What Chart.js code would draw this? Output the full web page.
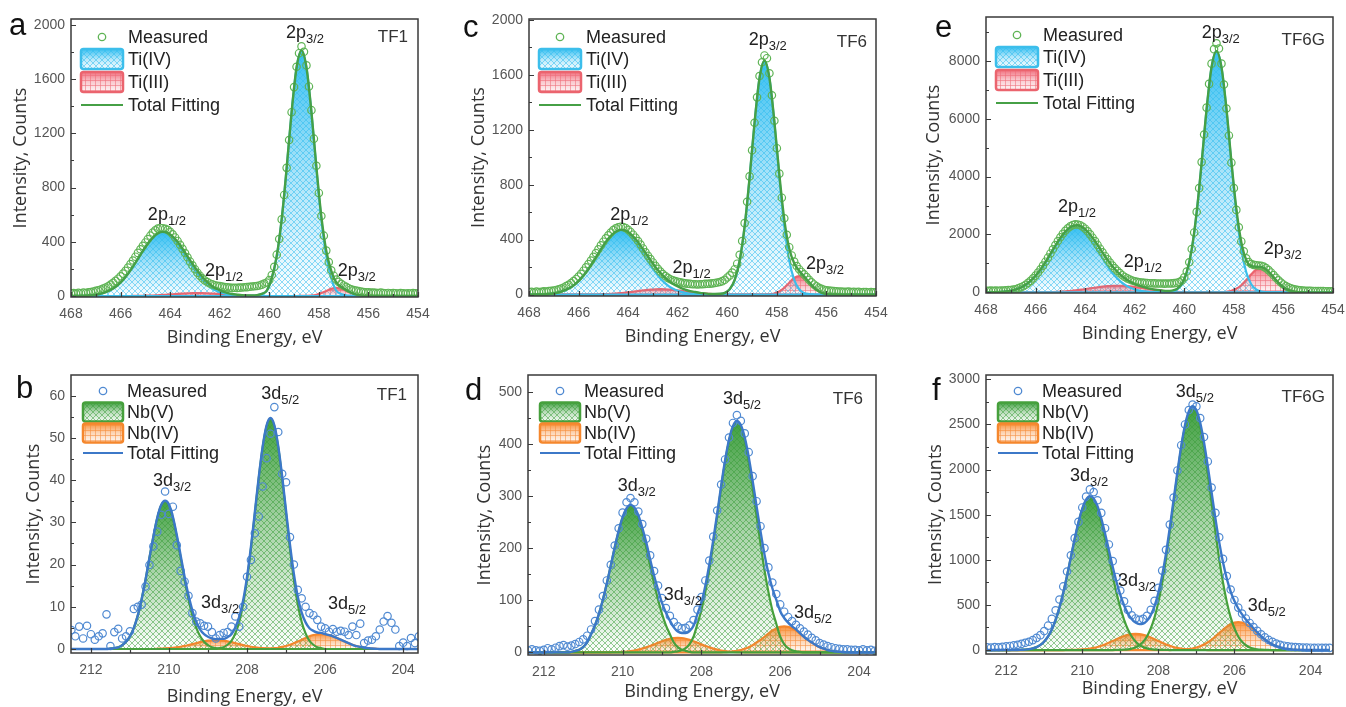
<!DOCTYPE html>
<html><head><meta charset="utf-8">
<script src="https://cdn.jsdelivr.net/npm/chart.js@4.4.0/dist/chart.umd.min.js"></script>
<style>
html,body{margin:0;padding:0;background:#fff;overflow:hidden;width:1346px;height:707px;position:relative}
.panel{position:absolute}
.letter{position:absolute;font:31px 'Liberation Sans',Arial,sans-serif;line-height:1;color:#111}
</style></head><body>
<div class="panel" id="pa" style="left:0;top:0"><canvas id="ca"></canvas></div>
<div class="panel" id="pc" style="left:455px;top:0"><canvas id="cc"></canvas></div>
<div class="panel" id="pe" style="left:910px;top:0"><canvas id="ce"></canvas></div>
<div class="panel" id="pb" style="left:0;top:355px"><canvas id="cb"></canvas></div>
<div class="panel" id="pd" style="left:455px;top:355px"><canvas id="cd"></canvas></div>
<div class="panel" id="pf" style="left:910px;top:355px"><canvas id="cf"></canvas></div>
<div class="letter" style="left:9px;top:9px">a</div>
<div class="letter" style="left:16px;top:372px">b</div>
<div class="letter" style="left:463px;top:11px">c</div>
<div class="letter" style="left:465px;top:374px">d</div>
<div class="letter" style="left:935px;top:11px">e</div>
<div class="letter" style="left:932px;top:374px">f</div>
<script>
// ---------- tick labels ----------
const tiTicks = [468,466,464,462,460,458,456,454];
const nbTicks = [212,210,208,206,204];
const aYTicks = [0,400,800,1200,1600,2000];
const cYTicks = [0,400,800,1200,1600,2000];
const eYTicks = [0,2000,4000,6000,8000];
const bYTicks = [0,10,20,30,40,50,60];
const dYTicks = [0,100,200,300,400,500];
const fYTicks = [0,500,1000,1500,2000,2500,3000];
const sampleNames = ['TF1','TF6','TF6G'];

// ---------- energies (eV) ----------
const tiFitEnergy = [468,467.9,467.7,467.5,467.3,467.1,466.9,466.7,466.5,466.3,
466.1,465.9,465.7,465.5,465.3,465.1,464.9,464.7,464.5,464.3,
464.1,463.9,463.7,463.5,463.3,463.1,462.9,462.7,462.5,462.3,
462.1,461.9,461.7,461.5,461.3,461.1,460.9,460.7,460.5,460.3,
460.1,459.9,459.7,459.5,459.3,459.1,458.9,458.7,458.5,458.3,
458.1,457.9,457.7,457.5,457.3,457.1,456.9,456.7,456.5,456.3,
456.1,455.9,455.7,455.5,455.3,455.1,454.9,454.7,454.5,454.3,
454.1,454];
const tiMeasEnergy = [468,467.9,467.8,467.7,467.6,467.5,467.4,467.3,467.2,467.1,
467,466.9,466.8,466.7,466.6,466.5,466.4,466.3,466.2,466.1,
466,465.9,465.8,465.7,465.6,465.5,465.4,465.3,465.2,465.1,
465,464.9,464.8,464.7,464.6,464.5,464.4,464.3,464.2,464.1,
464,463.9,463.8,463.7,463.6,463.5,463.4,463.3,463.2,463.1,
463,462.9,462.8,462.7,462.6,462.5,462.4,462.3,462.2,462.1,
462,461.9,461.8,461.7,461.6,461.5,461.4,461.3,461.2,461.1,
461,460.9,460.8,460.7,460.6,460.5,460.4,460.3,460.2,460.1,
460,459.9,459.8,459.7,459.6,459.5,459.4,459.3,459.2,459.1,
459,458.9,458.8,458.7,458.6,458.5,458.4,458.3,458.2,458.1,
458,457.9,457.8,457.7,457.6,457.5,457.4,457.3,457.2,457.1,
457,456.9,456.8,456.7,456.6,456.5,456.4,456.3,456.2,456.1,
456,455.9,455.8,455.7,455.6,455.5,455.4,455.3,455.2,455.1,
455,454.9,454.8,454.7,454.6,454.5,454.4,454.3,454.2,454.1,
454];
const nbEnergy = [212.5,212.4,212.3,212.2,212.1,212,211.9,211.8,211.7,211.6,
211.5,211.4,211.3,211.2,211.1,211,210.9,210.8,210.7,210.6,
210.5,210.4,210.3,210.2,210.1,210,209.9,209.8,209.7,209.6,
209.5,209.4,209.3,209.2,209.1,209,208.9,208.8,208.7,208.6,
208.5,208.4,208.3,208.2,208.1,208,207.9,207.8,207.7,207.6,
207.5,207.4,207.3,207.2,207.1,207,206.9,206.8,206.7,206.6,
206.5,206.4,206.3,206.2,206.1,206,205.9,205.8,205.7,205.6,
205.5,205.4,205.3,205.2,205.1,205,204.9,204.8,204.7,204.6,
204.5,204.4,204.3,204.2,204.1,204,203.9,203.8,203.7,203.6,
203.5];

// ---------- panel a : TF1 Ti 2p ----------
const aMeasured = [20,22,18,24,21,25,23,27,30,33,
38,42,48,55,63,72,84,98,112,128,
146,165,186,210,236,262,290,318,345,370,
395,420,445,468,485,498,502,500,496,488,
474,455,432,406,378,348,317,286,255,226,
198,172,150,131,115,103,93,86,80,76,
73,70,66,64,62,60,61,60,62,63,
65,66,68,70,72,74,78,84,92,100,
118,155,215,305,420,565,745,945,1150,1355,
1540,1690,1790,1840,1800,1700,1545,1370,1160,960,
760,590,445,335,250,190,150,122,104,90,
78,68,58,50,44,40,36,33,30,28,
27,25,26,24,23,25,22,21,23,20,
22,21,19,22,20,18,21,19,22,20,
19];
const aTi4_2p12 = [0,0,1,2,4,7,13,22,36,55,
83,119,164,216,273,331,384,427,455,465,
455,427,384,331,273,216,164,119,83,55,
36,22,13,7,4,2,1,0,0,0,
0,0,0,0,0,0,0,0,0,0,
0,0,0,0,0,0,0,0,0,0,
0,0,0,0,0,0,0,0,0,0,
0,0];
const aTi4_2p32 = [0,0,0,0,0,0,0,0,0,0,
0,0,0,0,0,0,0,0,0,0,
0,0,0,0,0,0,0,0,0,0,
0,0,0,0,0,0,1,3,6,15,
40,132,294,565,941,1354,1683,1810,1683,1354,
941,565,294,132,40,15,6,3,1,0,
0,0,0,0,0,0,0,0,0,0,
0,0];
const aTi3_2p12 = [0,0,0,0,0,0,0,0,0,0,
0,0,0,1,1,2,3,4,6,8,
11,13,16,18,20,22,22,22,20,18,
16,13,11,8,6,4,3,2,1,1,
0,0,0,0,0,0,0,0,0,0,
0,0,0,0,0,0,0,0,0,0,
0,0,0,0,0,0,0,0,0,0,
0,0];
const aTi3_2p32 = [0,0,0,0,0,0,0,0,0,0,
0,0,0,0,0,0,0,0,0,0,
0,0,0,0,0,0,0,0,0,0,
0,0,0,0,0,0,0,0,0,0,
0,0,0,0,0,0,0,1,2,4,
10,22,38,54,60,54,38,22,10,4,
2,1,0,0,0,0,0,0,0,0,
0,0];
const aTotal = [0,0,1,2,4,7,13,22,36,55,
83,119,164,217,274,333,387,431,461,473,
466,440,400,349,293,238,186,141,103,73,
52,35,24,15,10,6,5,5,7,16,
40,132,294,565,941,1354,1683,1811,1685,1358,
951,587,332,186,100,69,44,25,11,4,
2,1,0,0,0,0,0,0,0,0,
0,0];

// ---------- panel c : TF6 Ti 2p ----------
const cMeasured = [18,20,17,22,19,21,24,22,26,28,
30,34,38,44,52,62,72,84,98,114,
132,152,174,198,222,248,275,302,330,358,
385,410,432,452,470,482,490,494,492,485,
472,456,436,414,390,364,336,308,282,258,
234,210,188,168,150,135,122,112,104,98,
94,90,86,82,80,78,76,75,74,75,
76,78,79,80,82,85,88,92,98,108,
125,140,160,185,225,290,390,520,675,860,
1050,1250,1435,1590,1690,1740,1720,1610,1450,1265,
1065,880,705,555,435,345,285,240,208,185,
165,147,128,108,90,74,60,50,42,36,
32,30,27,26,24,22,23,21,20,22,
19,21,18,20,17,19,18,16,18,17,
17];
const cTi4_2p12 = [0,0,1,2,4,7,13,22,36,54,
82,118,162,214,270,327,380,422,450,460,
450,422,380,327,270,214,162,118,82,54,
36,22,13,7,4,2,1,0,0,0,
0,0,0,0,0,0,0,0,0,0,
0,0,0,0,0,0,0,0,0,0,
0,0,0,0,0,0,0,0,0,0,
0,0];
const cTi4_2p32 = [0,0,0,0,0,0,0,0,0,0,
0,0,0,0,0,0,0,0,0,0,
0,0,0,0,0,0,0,0,0,0,
0,0,0,0,0,0,0,0,1,4,
12,39,107,248,496,851,1250,1574,1700,1574,
1250,851,496,248,107,39,12,4,1,0,
0,0,0,0,0,0,0,0,0,0,
0,0];
const cTi3_2p12 = [0,0,0,0,0,0,0,0,0,0,
0,0,0,1,1,2,4,5,8,11,
15,19,24,29,33,37,39,40,39,37,
33,29,24,19,15,11,8,5,4,2,
1,1,0,0,0,0,0,0,0,0,
0,0,0,0,0,0,0,0,0,0,
0,0,0,0,0,0,0,0,0,0,
0,0];
const cTi3_2p32 = [0,0,0,0,0,0,0,0,0,0,
0,0,0,0,0,0,0,0,0,0,
0,0,0,0,0,0,0,0,0,0,
0,0,0,0,0,0,0,0,0,0,
0,0,0,0,0,0,0,0,1,2,
8,23,50,87,121,135,121,87,50,23,
8,2,1,0,0,0,0,0,0,0,
0,0];
const cTotal = [0,0,1,2,4,7,13,22,36,54,
82,118,162,215,271,329,384,427,458,471,
465,441,404,356,303,251,201,158,121,91,
69,51,37,26,19,13,9,5,5,6,
13,40,107,248,496,851,1250,1574,1701,1576,
1258,874,546,335,228,174,133,91,51,23,
8,2,1,0,0,0,0,0,0,0,
0,0];

// ---------- panel e : TF6G Ti 2p ----------
const eMeasured = [60,55,62,58,65,60,68,64,72,78,
85,98,112,140,175,215,265,330,400,485,
580,685,800,925,1060,1200,1345,1490,1635,1775,
1905,2025,2130,2215,2280,2330,2350,2345,2320,2270,
2200,2110,2005,1890,1770,1640,1510,1385,1260,1140,
1030,925,830,745,665,595,535,485,445,410,
385,365,350,340,330,325,318,315,312,310,
308,306,305,306,308,312,320,335,360,410,
520,720,1040,1500,2070,2780,3600,4500,5450,6380,
7200,7900,8400,8600,8420,7900,7180,6350,5420,4480,
3600,2850,2250,1760,1420,1180,1050,980,950,940,
930,920,890,840,770,690,600,505,420,340,
275,220,175,140,115,95,82,72,65,60,
55,52,50,48,46,45,44,42,41,40,
40];
const eTi4_2p12 = [2,3,7,13,25,46,80,133,213,327,
480,676,911,1178,1460,1732,1969,2144,2238,2238,
2144,1969,1732,1460,1178,911,676,480,327,213,
133,80,46,25,13,7,3,2,1,0,
0,0,0,0,0,0,0,0,0,0,
0,0,0,0,0,0,0,0,0,0,
0,0,0,0,0,0,0,0,0,0,
0,0];
const eTi4_2p32 = [0,0,0,0,0,0,0,0,0,0,
0,0,0,0,0,0,0,0,0,0,
0,0,0,0,0,0,0,0,0,0,
0,0,0,0,0,0,2,8,31,101,
284,695,1483,2766,4473,6323,7772,8330,7772,6323,
4473,2766,1483,695,284,101,31,8,2,0,
0,0,0,0,0,0,0,0,0,0,
0,0];
const eTi3_2p12 = [0,0,0,0,0,0,0,0,0,1,
2,3,5,9,14,21,31,43,60,79,
102,126,152,176,198,215,226,230,226,215,
198,176,152,126,102,79,60,43,31,21,
14,9,5,3,2,1,0,0,0,0,
0,0,0,0,0,0,0,0,0,0,
0,0,0,0,0,0,0,0,0,0,
0,0];
const eTi3_2p32 = [0,0,0,0,0,0,0,0,0,0,
0,0,0,0,0,0,0,0,0,0,
0,0,0,0,0,0,0,0,0,0,
0,0,0,0,0,0,0,0,0,0,
0,0,0,0,0,0,1,2,7,20,
53,124,248,425,625,787,850,787,625,425,
248,124,53,20,7,2,1,0,0,0,
0,0];
const eTotal = [2,3,7,13,25,46,80,133,213,328,
482,679,916,1187,1474,1753,2000,2187,2298,2317,
2246,2095,1884,1636,1376,1126,902,710,553,428,
331,256,198,151,115,86,65,53,63,122,
298,704,1488,2769,4475,6324,7773,8332,7779,6343,
4526,2890,1731,1120,909,888,881,795,627,425,
248,124,53,20,7,2,1,0,0,0,
0,0];

// ---------- panel b : TF1 Nb 3d ----------
const bMeasured = [4.5,3.0,5.3,2.5,5.5,3.5,2.2,3.0,3.7,8.2,
0.7,4.0,4.8,2.5,3.0,4.2,9.5,10.0,10.5,14.8,
19.9,24.3,27.8,31.8,37.3,32.0,33.7,24.6,18.5,16.0,
12.6,8.5,6.5,6.1,5.5,5.3,4.0,2.5,3.3,3.8,
4.0,5.3,7.7,5.3,10.0,17.1,21.1,27.4,31.4,38.5,
45.2,51.0,57.3,51.4,41.5,39.5,26.5,20.0,14.0,12.0,
10.0,8.5,8.0,6.9,5.3,4.9,4.1,4.7,4.1,4.3,
4.1,3.3,5.3,3.3,6.0,1.4,2.0,2.2,3.0,4.6,
6.5,7.8,6.2,4.6,0.7,1.5,0.7,2.6,1.4,3.0,
1.8];
const bNb5_3d32 = [0,0,0,0,0,0,0,0,0,0,
0.1,0.2,0.4,0.9,1.7,3.0,5.0,7.9,11.8,16.4,
21.6,26.6,31.0,34.0,35.0,34.0,31.0,26.6,21.6,16.4,
11.8,7.9,5.0,3.0,1.7,0.9,0.4,0.2,0.1,0,
0,0,0,0,0,0,0,0,0,0,
0,0,0,0,0,0,0,0,0,0,
0,0,0,0,0,0,0,0,0,0,
0,0,0,0,0,0,0,0,0,0,
0,0,0,0,0,0,0,0,0,0,
0];
const bNb5_3d52 = [0,0,0,0,0,0,0,0,0,0,
0,0,0,0,0,0,0,0,0,0,
0,0,0,0,0,0,0,0,0,0,
0,0,0,0,0,0,0,0,0.2,0.4,
1.0,1.9,3.7,6.4,10.6,16.4,23.7,32.0,40.4,47.7,
52.7,54.5,52.7,47.7,40.4,32.0,23.7,16.4,10.6,6.4,
3.7,1.9,1.0,0.4,0.2,0,0,0,0,0,
0,0,0,0,0,0,0,0,0,0,
0,0,0,0,0,0,0,0,0,0,
0];
const bNb4_3d32 = [0,0,0,0,0,0,0,0,0,0,
0,0,0,0,0,0,0,0,0,0,
0,0,0.05,0.08,0.13,0.19,0.28,0.4,0.54,0.72,
0.93,1.15,1.38,1.61,1.81,1.97,2.06,2.1,2.06,1.97,
1.81,1.61,1.38,1.15,0.93,0.72,0.54,0.4,0.28,0.19,
0.13,0.08,0.05,0,0,0,0,0,0,0,
0,0,0,0,0,0,0,0,0,0,
0,0,0,0,0,0,0,0,0,0,
0,0,0,0,0,0,0,0,0,0,
0];
const bNb4_3d52 = [0,0,0,0,0,0,0,0,0,0,
0,0,0,0,0,0,0,0,0,0,
0,0,0,0,0,0,0,0,0,0,
0,0,0,0,0,0,0,0,0,0,
0,0,0,0,0,0,0,0,0,0,
0.05,0.1,0.2,0.3,0.5,0.7,1.0,1.35,1.75,2.2,
2.6,3.0,3.3,3.5,3.6,3.5,3.3,3.0,2.6,2.2,
1.75,1.35,1.0,0.7,0.5,0.3,0.2,0.1,0.05,0,
0,0,0,0,0,0,0,0,0,0,
0];
const bTotal = [0,0,0,0,0,0,0,0,0,0,
0.1,0.2,0.4,0.9,1.7,3.0,5.0,7.9,11.8,16.4,
21.6,26.6,31.1,34.1,35.1,34.2,31.3,27.0,22.1,17.1,
12.7,9.1,6.4,4.6,3.5,2.9,2.5,2.3,2.4,2.4,
2.8,3.5,5.1,7.6,11.5,17.1,24.2,32.4,40.7,47.9,
52.9,54.7,53.0,48.0,40.9,32.7,24.7,17.8,12.4,8.6,
6.3,4.9,4.3,3.9,3.8,3.5,3.3,3.0,2.6,2.2,
1.8,1.4,1.0,0.7,0.5,0.3,0.2,0.1,0.05,0,
0,0,0,0,0,0,0,0,0,0,
0];

// ---------- panel d : TF6 Nb 3d ----------
const dMeasured = [5,4,6,4,3,5,8,6,9,12,
14,11,13,16,20,25,32,44,60,82,
108,138,168,205,238,268,288,296,288,270,
246,218,186,156,128,104,85,70,58,50,
46,47,52,62,82,106,138,176,222,272,
322,370,412,440,455,444,420,384,338,290,
242,200,163,134,112,92,78,68,60,53,
46,40,34,28,23,18,15,12,10,8,
7,6,6,5,5,4,6,4,5,3,
4];
const dNb5_3d32 = [0,0,0,0,0,0,0,0,0,0,
0,0,1,3,5,10,19,35,52,74,
101,132,166,201,232,258,274,280,274,258,
232,201,166,132,101,74,52,35,19,10,
5,3,1,0,0,0,0,0,0,0,
0,0,0,0,0,0,0,0,0,0,
0,0,0,0,0,0,0,0,0,0,
0,0,0,0,0,0,0,0,0,0,
0,0,0,0,0,0,0,0,0,0,
0];
const dNb5_3d52 = [0,0,0,0,0,0,0,0,0,0,
0,0,0,0,0,0,0,0,0,0,
0,0,0,0,0,0,0,0,0,0,
0,0,0,0,0,0,0,0,1,2,
4,8,16,30,55,81,116,158,208,261,
315,365,405,431,440,431,405,365,315,261,
208,158,116,81,55,30,16,8,4,2,
1,0,0,0,0,0,0,0,0,0,
0,0,0,0,0,0,0,0,0,0,
0];
const dNb4_3d32 = [0,0,0,0,0,0,0,0,0,0,
0,0,0,0,0,0,0,0,0,0,
0,0,0.2,0.4,0.7,1.1,1.7,2.5,3.7,5.3,
7.3,9.6,12.4,15.4,18.5,21.4,24.1,26.2,27.5,28,
27.5,26.2,24.1,21.4,18.5,15.4,12.4,9.6,7.3,5.3,
3.7,2.5,1.7,1.1,0.7,0.4,0.2,0,0,0,
0,0,0,0,0,0,0,0,0,0,
0,0,0,0,0,0,0,0,0,0,
0,0,0,0,0,0,0,0,0,0,
0];
const dNb4_3d52 = [0,0,0,0,0,0,0,0,0,0,
0,0,0,0,0,0,0,0,0,0,
0,0,0,0,0,0,0,0,0,0,
0,0,0,0,0,0,0,0,0,0,
0,0,0,0,0,0,0,0,0,0,
0,0.5,1,2,3,4.5,7,10,14,19,
24,30,36,42,46,49,50,49,46,42,
36,30,24,19,14,10,7,4.5,3,2,
1,0.5,0,0,0,0,0,0,0,0,
0];
const dTotal = [0,0,0,0,0,0,0,0,0,0,
0,0,1,3,5,10,19,35,52,74,
101,132,166,201,233,259,276,283,278,263,
239,211,178,147,120,95,76,61,48,40,
37,37,41,51,74,96,128,168,215,266,
319,368,408,434,444,436,412,375,329,280,
232,188,152,123,101,79,66,57,50,44,
37,30,24,19,14,10,7,4.5,3,2,
1,0.5,0,0,0,0,0,0,0,0,
0];

// ---------- panel f : TF6G Nb 3d ----------
const fMeasured = [30,28,32,30,35,40,45,52,58,68,
80,92,110,135,165,210,270,345,440,560,
705,870,1050,1240,1420,1580,1700,1780,1750,1660,
1520,1350,1170,985,810,660,540,445,385,350,
335,345,380,445,545,690,880,1110,1390,1690,
1990,2270,2500,2660,2720,2700,2570,2360,2090,1800,
1520,1250,1010,820,670,555,470,405,350,300,
255,212,175,140,112,90,72,58,48,40,
35,32,30,28,27,26,25,26,24,25,
24];
const fNb5_3d32 = [0,0,0,0,0,0,0,1,1,3,
5,10,19,33,57,95,150,228,335,470,
634,823,1026,1227,1411,1560,1656,1690,1656,1560,
1411,1227,1026,823,634,470,335,228,150,95,
57,33,19,10,5,3,1,1,0,0,
0,0,0,0,0,0,0,0,0,0,
0,0,0,0,0,0,0,0,0,0,
0,0,0,0,0,0,0,0,0,0,
0,0,0,0,0,0,0,0,0,0,
0];
const fNb5_3d52 = [0,0,0,0,0,0,0,0,0,0,
0,0,0,0,0,0,0,0,0,0,
0,0,0,0,0,0,0,0,0,0,
0,0,0,0,1,2,4,8,16,29,
53,91,150,239,362,531,745,1005,1305,1627,
1946,2238,2474,2626,2680,2626,2474,2238,1946,1627,
1305,1005,745,531,362,239,150,91,53,29,
16,8,4,2,1,0,0,0,0,0,
0,0,0,0,0,0,0,0,0,0,
0];
const fNb4_3d32 = [0,0,0,0,0,0,0,0,0,0,
0,0,0,0,0,0,0,0,0,0,
0,1,2,3,4,7,11,16,24,34,
47,62,80,99,119,138,155,168,177,180,
177,168,155,138,119,99,80,62,47,34,
24,16,11,7,4,3,2,1,0,0,
0,0,0,0,0,0,0,0,0,0,
0,0,0,0,0,0,0,0,0,0,
0,0,0,0,0,0,0,0,0,0,
0];
const fNb4_3d52 = [0,0,0,0,0,0,0,0,0,0,
0,0,0,0,0,0,0,0,0,0,
0,0,0,0,0,0,0,0,0,0,
0,0,0,0,0,0,0,0,0,0,
0,0,0,0,0,0,0,0,0,1,
2,3,6,11,17,28,42,61,86,116,
151,188,225,259,286,304,310,304,286,259,
225,188,151,116,86,61,42,28,17,11,
6,3,2,1,0,0,0,0,0,0,
0];
const fTotal = [0,0,0,0,0,0,0,1,1,3,
5,10,19,33,57,95,150,228,335,470,
634,824,1028,1230,1415,1567,1667,1706,1680,1594,
1458,1289,1106,922,754,610,494,404,343,304,
287,292,324,387,486,633,826,1068,1352,1662,
1972,2257,2491,2644,2701,2657,2518,2300,2032,1743,
1456,1193,970,790,648,543,460,395,339,288,
241,196,155,118,87,61,42,28,17,11,
6,3,2,1,0,0,0,0,0,0,
0];

// ---------- styling ----------
const FONT = "'Liberation Sans', Arial, sans-serif";
const TI = {
  meas:'rgb(95,180,85)', total:'rgb(70,160,70)',
  c1:{fill:'45,188,240', line:'60,190,235', pat:'70,195,240', kind:'diag'},
  c2:{fill:'240,105,120', line:'235,100,110', pat:'240,120,130', kind:'grid'},
  names:['Measured','Ti(IV)','Ti(III)','Total Fitting'],
  legend:{rows:[18,40,63,86], markerX:31, boxX:10, boxW:42, boxH:20, textX:57}
};
const NB = {
  meas:'rgb(80,138,210)', total:'rgb(60,120,200)',
  c1:{fill:'55,155,55', line:'70,160,60', pat:'80,170,80', kind:'diag'},
  c2:{fill:'248,140,50', line:'245,135,45', pat:'245,150,80', kind:'grid'},
  names:['Measured','Nb(V)','Nb(IV)','Total Fitting'],
  legend:{rows:[16,37,58,78], markerX:32, boxX:12, boxW:40, boxH:19, textX:56}
};

function makePattern(rgb, kind) {
  const c = document.createElement('canvas');
  const s = kind === 'diag' ? 6 : 5;
  c.width = s; c.height = s;
  const g = c.getContext('2d');
  g.strokeStyle = 'rgba(' + rgb + ',0.6)';
  g.lineWidth = 1;
  g.beginPath();
  if (kind === 'diag') {
    g.moveTo(-1,-1); g.lineTo(s+1,s+1); g.moveTo(s+1,-1); g.lineTo(-1,s+1);
  } else {
    g.moveTo(0,0.5); g.lineTo(s,0.5); g.moveTo(0.5,0); g.lineTo(0.5,s);
  }
  g.stroke();
  return g.createPattern(c, 'repeat');
}
function gradFill(rgb, peak) {
  return (ctx) => {
    const chart = ctx.chart;
    if (!chart.chartArea || !chart.scales.y) return 'rgba(' + rgb + ',0.4)';
    const ys = chart.scales.y;
    const top = ys.getPixelForValue(peak), bot = ys.getPixelForValue(0);
    if (!(bot - top > 1)) return 'rgba(' + rgb + ',0.4)';
    const g = chart.ctx.createLinearGradient(0, top, 0, bot);
    g.addColorStop(0, 'rgba(' + rgb + ',0.95)');
    g.addColorStop(0.45, 'rgba(' + rgb + ',0.45)');
    g.addColorStop(1, 'rgba(' + rgb + ',0)');
    return g;
  };
}

const panels = [
  {id:'a', canvas:'ca', W:440, H:353, pad:[6,19,22], yw:65, xh:56, xMin:454, xMax:468, yMin:-7, yMax:2042,
   xTicks:tiTicks, yTicks:aYTicks, xMinor:1, yMinor:200, st:TI, fitX:tiFitEnergy, measX:tiMeasEnergy,
   meas:aMeasured, comps:[[aTi4_2p12,'c1'],[aTi4_2p32,'c1'],[aTi3_2p12,'c2'],[aTi3_2p32,'c2']], total:aTotal,
   sample:sampleNames[0], sOff:[10,23],
   labels:[['2p','3/2',458.56,1900],['2p','1/2',464.13,561],['2p','1/2',461.83,148],['2p','3/2',456.47,148]]},
  {id:'c', canvas:'cc', W:440, H:352, pad:[9,19,19], yw:65, xh:56, xMin:454, xMax:468, yMin:-10, yMax:2005,
   xTicks:tiTicks, yTicks:cYTicks, xMinor:1, yMinor:200, st:TI, fitX:tiFitEnergy, measX:tiMeasEnergy,
   meas:cMeasured, comps:[[cTi4_2p12,'c1'],[cTi4_2p32,'c1'],[cTi3_2p12,'c2'],[cTi3_2p32,'c2']], total:cTotal,
   sample:sampleNames[1], sOff:[9,28],
   labels:[['2p','3/2',458.37,1818],['2p','1/2',463.95,540],['2p','1/2',461.44,158],['2p','3/2',456.06,189]]},
  {id:'e', canvas:'ce', W:436, H:349, pad:[9,17,13], yw:67, xh:56, xMin:454, xMax:468, yMin:-20, yMax:9510,
   xTicks:tiTicks, yTicks:eYTicks, xMinor:1, yMinor:1000, st:TI, fitX:tiFitEnergy, measX:tiMeasEnergy,
   meas:eMeasured, comps:[[eTi4_2p12,'c1'],[eTi4_2p32,'c1'],[eTi3_2p12,'c2'],[eTi3_2p32,'c2']], total:eTotal,
   sample:sampleNames[2], sOff:[8,28],
   labels:[['2p','3/2',458.53,8778],['2p','1/2',464.33,2762],['2p','1/2',461.67,894],['2p','3/2',456.03,1326]]},
  {id:'b', canvas:'cb', W:440, H:357, pad:[19,20,22], yw:52, xh:59, xMin:203.62, xMax:212.51, yMin:-0.95, yMax:64.9,
   xTicks:nbTicks, yTicks:bYTicks, xMinor:1, yMinor:5, st:NB, fitX:nbEnergy, measX:nbEnergy,
   meas:bMeasured, comps:[[bNb5_3d32,'c1'],[bNb5_3d52,'c1'],[bNb4_3d32,'c2'],[bNb4_3d52,'c2']], total:bTotal,
   sample:sampleNames[0], sOff:[11,25],
   labels:[['3d','5/2',207.15,59.2],['3d','3/2',209.92,38.6],['3d','3/2',208.69,9.8],['3d','5/2',205.44,9.4]]},
  {id:'d', canvas:'cd', W:440, H:352, pad:[15,20,19], yw:58, xh:52, xMin:203.57, xMax:212.4, yMin:-5, yMax:532,
   xTicks:nbTicks, yTicks:dYTicks, xMinor:1, yMinor:50, st:NB, fitX:nbEnergy, measX:nbEnergy,
   meas:dMeasured, comps:[[dNb5_3d32,'c1'],[dNb5_3d52,'c1'],[dNb4_3d32,'c2'],[dNb4_3d52,'c2']], total:dTotal,
   sample:sampleNames[1], sOff:[13,29],
   labels:[['3d','5/2',206.97,477],['3d','3/2',209.64,309],['3d','3/2',208.47,100],['3d','5/2',205.17,66]]},
  {id:'f', canvas:'cf', W:436, H:349, pad:[11,20,13], yw:65, xh:50, xMin:203.41, xMax:212.53, yMin:-44, yMax:3048,
   xTicks:nbTicks, yTicks:fYTicks, xMinor:1, yMinor:250, st:NB, fitX:nbEnergy, measX:nbEnergy,
   meas:fMeasured, comps:[[fNb5_3d32,'c1'],[fNb5_3d52,'c1'],[fNb4_3d32,'c2'],[fNb4_3d52,'c2']], total:fTotal,
   sample:sampleNames[2], sOff:[8,27],
   labels:[['3d','5/2',207.04,2804],['3d','3/2',209.82,1873],['3d','3/2',208.56,709],['3d','5/2',205.15,432]]}
];

function roundRect(ctx, x, y, w, h, r) {
  ctx.beginPath();
  ctx.moveTo(x + r, y); ctx.lineTo(x + w - r, y); ctx.quadraticCurveTo(x + w, y, x + w, y + r);
  ctx.lineTo(x + w, y + h - r); ctx.quadraticCurveTo(x + w, y + h, x + w - r, y + h);
  ctx.lineTo(x + r, y + h); ctx.quadraticCurveTo(x, y + h, x, y + h - r);
  ctx.lineTo(x, y + r); ctx.quadraticCurveTo(x, y, x + r, y);
  ctx.closePath();
}

function makeDecor(p) {
  return {
    id: 'decor_' + p.id,
    afterDraw(chart) {
      const ctx = chart.ctx, ca = chart.chartArea, xs = chart.scales.x, ys = chart.scales.y;
      ctx.save();
      // inward ticks
      ctx.strokeStyle = '#3a3a3a'; ctx.lineWidth = 1.2;
      ctx.beginPath();
      for (let v = Math.ceil(p.xMin); v <= p.xMax + 1e-9; v += p.xMinor) {
        const px = Math.round(xs.getPixelForValue(v)) + 0.5;
        const len = p.xTicks.includes(v) ? 5 : 3;
        ctx.moveTo(px, ca.bottom); ctx.lineTo(px, ca.bottom - len);
      }
      for (let v = 0; v <= p.yMax + 1e-9; v += p.yMinor) {
        const py = Math.round(ys.getPixelForValue(v)) + 0.5;
        const len = p.yTicks.includes(v) ? 5 : 3;
        ctx.moveTo(ca.left, py); ctx.lineTo(ca.left + len, py);
      }
      ctx.stroke();
      // frame
      ctx.lineWidth = 1.5; ctx.strokeStyle = '#3a3a3a';
      ctx.strokeRect(ca.left, ca.top, ca.right - ca.left, ca.bottom - ca.top);
      // sample name
      ctx.fillStyle = '#333'; ctx.font = '17px ' + FONT;
      ctx.textAlign = 'right'; ctx.textBaseline = 'alphabetic';
      ctx.fillText(p.sample, ca.right - p.sOff[0], ca.top + p.sOff[1]);
      // peak labels
      ctx.textAlign = 'left'; ctx.fillStyle = '#222';
      p.labels.forEach(l => {
        const px = xs.getPixelForValue(l[2]), py = ys.getPixelForValue(l[3]);
        ctx.font = '18px ' + FONT; const w1 = ctx.measureText(l[0]).width;
        ctx.font = '13px ' + FONT; const w2 = ctx.measureText(l[1]).width;
        const x0 = px - (w1 + w2) / 2;
        ctx.font = '18px ' + FONT; ctx.fillText(l[0], x0, py);
        ctx.font = '13px ' + FONT; ctx.fillText(l[1], x0 + w1, py + 5);
      });
      // legend
      const st = p.st, L = st.legend;
      ctx.font = '18px ' + FONT; ctx.textBaseline = 'middle';
      const bx = ca.left + L.boxX;
      for (let i = 0; i < 4; i++) {
        const cy = ca.top + L.rows[i];
        if (i === 0) {
          ctx.beginPath(); ctx.arc(ca.left + L.markerX, cy, 3.7, 0, Math.PI * 2);
          ctx.strokeStyle = st.meas; ctx.lineWidth = 1.3; ctx.stroke();
        } else if (i === 3) {
          ctx.beginPath(); ctx.moveTo(bx, cy); ctx.lineTo(bx + L.boxW, cy);
          ctx.strokeStyle = st.total; ctx.lineWidth = 2; ctx.stroke();
        } else {
          const c = i === 1 ? st.c1 : st.c2;
          const top = cy - L.boxH / 2;
          ctx.fillStyle = '#fff'; ctx.fillRect(bx, top, L.boxW, L.boxH);
          ctx.fillStyle = c.patternObj; ctx.fillRect(bx, top, L.boxW, L.boxH);
          const g = ctx.createLinearGradient(0, top, 0, top + L.boxH);
          g.addColorStop(0, 'rgba(' + c.fill + ',0.95)');
          g.addColorStop(0.5, 'rgba(' + c.fill + ',0.35)');
          g.addColorStop(1, 'rgba(' + c.fill + ',0.05)');
          ctx.fillStyle = g; ctx.fillRect(bx, top, L.boxW, L.boxH);
          roundRect(ctx, bx, top, L.boxW, L.boxH, 2.5);
          ctx.strokeStyle = 'rgb(' + c.line + ')'; ctx.lineWidth = 2.5; ctx.stroke();
        }
        ctx.fillStyle = '#222';
        ctx.fillText(st.names[i], ca.left + L.textX, cy + 1);
      }
      ctx.restore();
    }
  };
}

[TI, NB].forEach(st => { st.c1.patternObj = makePattern(st.c1.pat, st.c1.kind); st.c2.patternObj = makePattern(st.c2.pat, st.c2.kind); });

panels.forEach(p => {
  const cv = document.getElementById(p.canvas);
  cv.width = p.W; cv.height = p.H; cv.style.width = p.W + 'px'; cv.style.height = p.H + 'px';
  const st = p.st;
  const datasets = [];
  p.comps.forEach((cp, i) => {
    const ys = cp[0], c = st[cp[1]];
    const data = p.fitX.map((x, j) => ({x: x, y: ys[j]}));
    const peak = Math.max.apply(null, ys);
    datasets.push({type:'line', data: data, fill:'origin', backgroundColor: c.patternObj, borderWidth: 0,
      pointRadius: 0, cubicInterpolationMode: 'monotone', order: 30 + i});
    datasets.push({type:'line', data: data, fill:'origin', backgroundColor: gradFill(c.fill, peak),
      borderColor: 'rgb(' + c.line + ')', borderWidth: 2.2, pointRadius: 0, cubicInterpolationMode: 'monotone', order: 10 + i});
  });
  datasets.push({type:'line', data: p.measX.map((x, j) => ({x: x, y: p.meas[j]})), showLine: false,
    pointRadius: 3.7, pointBorderWidth: 1.2, pointBorderColor: st.meas, pointBackgroundColor: 'rgba(255,255,255,0)',
    borderColor: st.meas, order: 2});
  datasets.push({type:'line', data: p.fitX.map((x, j) => ({x: x, y: p.total[j]})), fill: false,
    borderColor: st.total, borderWidth: 2.4, pointRadius: 0, cubicInterpolationMode: 'monotone', order: 1});

  new Chart(cv, {
    type: 'line',
    data: {datasets: datasets},
    options: {
      responsive: false, animation: false, devicePixelRatio: 1, events: [],
      layout: {padding: {left: p.pad[0], top: p.pad[1], right: p.pad[2], bottom: 0}},
      plugins: {legend: {display: false}, tooltip: {enabled: false}},
      scales: {
        x: {type: 'linear', reverse: true, min: p.xMin, max: p.xMax,
          grid: {display: false, drawTicks: false, tickLength: 0}, border: {display: false},
          ticks: {font: {size: 14, family: FONT}, color: '#555', padding: 9, maxRotation: 0, autoSkip: false,
            includeBounds: false, callback: v => String(v)},
          title: {display: true, text: 'Binding Energy, eV', font: {family: "'Open Sans', 'DejaVu Sans', sans-serif", size: 18}, color: '#333', padding: {top: 4, bottom: 4}},
          afterBuildTicks: s => { s.ticks = p.xTicks.map(v => ({value: v})); },
          afterFit: s => { s.height = p.xh; s.paddingLeft = 0; s.paddingRight = 0; }
        },
        y: {type: 'linear', min: p.yMin, max: p.yMax,
          grid: {display: false, drawTicks: false, tickLength: 0}, border: {display: false},
          ticks: {font: {size: 14, family: FONT}, color: '#555', padding: 6, autoSkip: false, includeBounds: false,
            callback: v => String(v)},
          title: {display: true, text: 'Intensity, Counts', font: {family: "'Open Sans', 'DejaVu Sans', sans-serif", size: 18}, color: '#333', padding: {top: 4, bottom: 4}},
          afterBuildTicks: s => { s.ticks = p.yTicks.map(v => ({value: v})); },
          afterFit: s => { s.width = p.yw; s.paddingTop = 0; s.paddingBottom = 0; }
        }
      }
    },
    plugins: [makeDecor(p)]
  });
});
</script>
</body></html>
